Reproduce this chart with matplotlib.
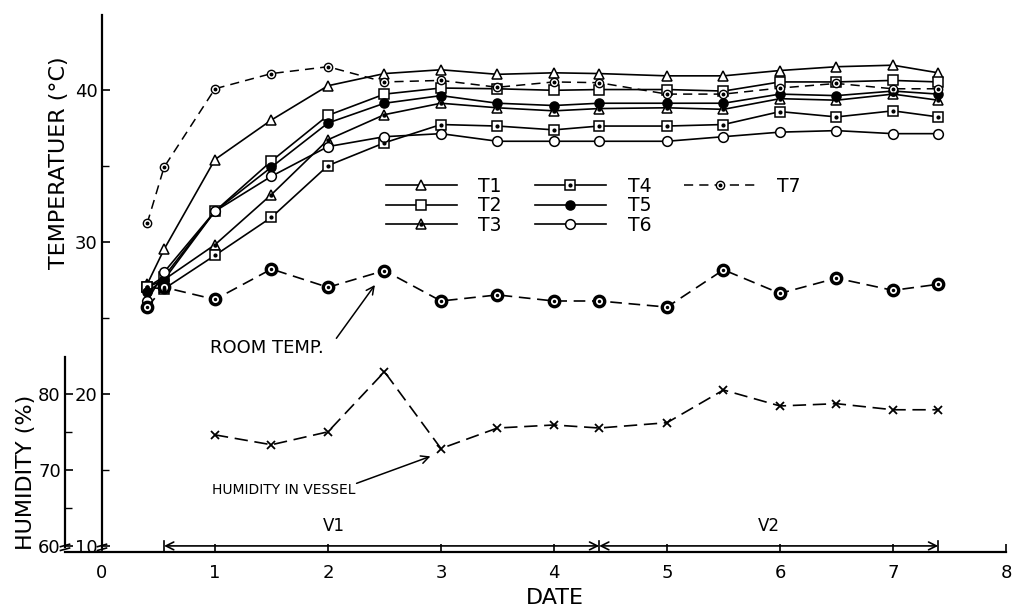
import matplotlib
matplotlib.use('Agg')
import matplotlib.pyplot as plt
from matplotlib.lines import Line2D
from matplotlib.legend_handler import HandlerTuple

# ---------------- data ----------------
dates = [0.4, 0.55, 1, 1.5, 2, 2.5, 3, 3.5, 4, 4.4, 5, 5.5, 6, 6.5, 7, 7.4]
t1 = [27.2, 29.5, 35.4, 38.0, 40.25, 41.05, 41.3, 41.0, 41.1, 41.05, 40.9, 40.9, 41.25, 41.5, 41.6, 41.1]
t2 = [27.0, 27.7, 32.0, 35.3, 38.3, 39.7, 40.1, 40.05, 39.95, 40.0, 40.0, 39.9, 40.5, 40.5, 40.6, 40.5]
t3 = [27.0, 27.5, 29.8, 33.1, 36.7, 38.35, 39.1, 38.8, 38.6, 38.75, 38.8, 38.7, 39.4, 39.3, 39.7, 39.3]
t4 = [27.0, 26.9, 29.1, 31.6, 35.0, 36.5, 37.7, 37.6, 37.35, 37.6, 37.6, 37.7, 38.55, 38.2, 38.6, 38.2]
t5 = [26.7, 27.5, 32.0, 34.9, 37.8, 39.1, 39.6, 39.1, 38.95, 39.1, 39.1, 39.1, 39.7, 39.6, 39.9, 39.7]
t6 = [26.1, 28.0, 32.0, 34.3, 36.25, 36.9, 37.1, 36.6, 36.6, 36.6, 36.6, 36.9, 37.2, 37.3, 37.1, 37.1]
t7 = [31.2, 34.9, 40.05, 41.05, 41.5, 40.5, 40.6, 40.15, 40.5, 40.45, 39.7, 39.7, 40.1, 40.4, 40.05, 40.05]
room_temp = [25.7, 27.0, 26.2, 28.2, 27.0, 28.1, 26.1, 26.5, 26.1, 26.1, 25.7, 28.15, 26.6, 27.6, 26.8, 27.2]

hum_dates = [1, 1.5, 2, 2.5, 3, 3.5, 4, 4.4, 5, 5.5, 6, 6.5, 7, 7.4]
humidity = [74.6, 73.3, 75.0, 82.9, 72.8, 75.5, 75.9, 75.5, 76.2, 80.5, 78.4, 78.7, 77.9, 77.9]

series_labels = ['T1', 'T2', 'T3', 'T4', 'T5', 'T6', 'T7']
period_bounds = [0.55, 4.4, 7.4]
period_labels = ['V1', 'V2']
x_ticks = [0, 1, 2, 3, 4, 5, 6, 7, 8]
temp_ticks = [10, 20, 30, 40]
hum_ticks = [60, 70, 80]

# ---------------- figure ----------------
plt.rcParams['font.family'] = ['DejaVu Sans']
fig = plt.figure(figsize=(10.13, 6.11), dpi=100)
ax = fig.add_axes([65 / 1013, 1 - 552 / 611, (1006 - 65) / 1013, (552 - 15) / 611])
ax.set_xlim(-0.327, 8)
ylo, yhi = 9.6, 44.9
ax.set_ylim(ylo, yhi)

for s in ['top', 'right']:
    ax.spines[s].set_visible(False)
ax.spines['left'].set_position(('data', 0))
ax.spines['left'].set_bounds(ylo + 0.35, yhi)
ax.spines['bottom'].set_bounds(-0.327, 8)
for s in ['left', 'bottom']:
    ax.spines[s].set_linewidth(1.6)

ax.set_xticks(x_ticks)
ax.set_xticklabels([str(v) for v in x_ticks])
ax.tick_params(axis='x', direction='in', length=6, width=1.2, pad=9, labelsize=13)
ax.set_yticks(temp_ticks)
ax.set_yticks([15, 25, 35], minor=True)
ax.tick_params(axis='y', which='major', direction='in', length=6, width=1.2, pad=3, labelsize=13)
ax.tick_params(axis='y', which='minor', direction='in', length=5, width=1.0)

# humidity axis
ax2 = ax.twinx()
ax2.set_ylim(2 * ylo + 40, 2 * yhi + 40)
for s in ['top', 'right', 'bottom']:
    ax2.spines[s].set_visible(False)
ax2.spines['left'].set_visible(True)
ax2.spines['left'].set_position(('axes', 0))
ax2.spines['left'].set_bounds(2 * ylo + 40 + 0.7, 84.9)
ax2.spines['left'].set_linewidth(1.6)
ax2.yaxis.tick_left()
ax2.set_yticks(hum_ticks)
ax2.set_yticks([65, 75], minor=True)
ax2.tick_params(axis='y', which='major', direction='in', length=6, width=1.2, pad=3, labelsize=13)
ax2.tick_params(axis='y', which='minor', direction='in', length=5, width=1.0)

# break marks near bottom of the vertical axes
for xb in [-0.327, 0]:
    for dy in [0.0, 0.25]:
        ax.plot([xb - 0.04, xb + 0.04], [9.78 + dy - 0.08, 9.78 + dy + 0.08],
                color='k', lw=1.2, clip_on=False, zorder=5)

lw = 1.2
common = dict(color='black', lw=lw, markeredgecolor='black', markeredgewidth=1.1)
h1, = ax.plot(dates, t1, marker='^', ms=7, mfc='white', **common, zorder=4)
h2, = ax.plot(dates, t2, marker='s', ms=7, mfc='white', **common, zorder=4)
h3, = ax.plot(dates, t3, marker='^', ms=7, mfc='white', **common, zorder=4)
d3, = ax.plot(dates, t3, ls='none', marker='o', ms=2.2, color='black', zorder=5)
h4, = ax.plot(dates, t4, marker='s', ms=7, mfc='white', **common, zorder=4)
d4, = ax.plot(dates, t4, ls='none', marker='o', ms=2.0, color='black', zorder=5)
h5, = ax.plot(dates, t5, marker='o', ms=6.5, mfc='black', **common, zorder=4)
h6, = ax.plot(dates, t6, marker='o', ms=7, mfc='white', **common, zorder=4)
h7, = ax.plot(dates, t7, marker='o', ms=6, mfc='white', color='black', lw=1.1,
              markeredgecolor='black', markeredgewidth=1.0, dashes=(6, 4), zorder=4)
d7, = ax.plot(dates, t7, ls='none', marker='o', ms=1.8, color='black', zorder=5)

# room temperature
ax.plot(dates, room_temp, marker='o', ms=7.5, mfc='white', mec='black', mew=2.4,
        color='black', lw=1.2, dashes=(7, 4), zorder=4)
ax.plot(dates, room_temp, ls='none', marker='o', ms=1.5, color='black', zorder=5)

# humidity
ax2.plot(hum_dates, humidity, marker='x', ms=6, mew=1.3, color='black', lw=1.2,
         dashes=(8, 4), zorder=4)

blank = Line2D([], [], alpha=0)
handles = [h1, h2, (h3, d3), (h4, d4), h5, h6, (h7, d7), blank, blank]
labels = series_labels + ['', '']
leg = ax.legend(handles, labels,
                handler_map={tuple: HandlerTuple(ndivide=1, pad=0)},
                loc='upper left', bbox_to_anchor=(2.51, 34.25), bbox_transform=ax.transData,
                ncol=3, frameon=False, fontsize=13.5, numpoints=1, handlelength=3.8,
                handletextpad=1.15, columnspacing=1.75, labelspacing=0.02, borderpad=0,
                borderaxespad=0)

# annotations
ax.text(0.96, 23.0, 'ROOM TEMP.', fontsize=13, va='center', ha='left')
ax.annotate('', xy=(2.43, 27.3), xytext=(2.06, 23.5),
            arrowprops=dict(arrowstyle='->', color='black', lw=1.1, mutation_scale=14))
ax.text(0.97, 13.65, 'HUMIDITY IN VESSEL', fontsize=10, va='center', ha='left')
ax.annotate('', xy=(2.93, 15.95), xytext=(2.23, 14.05),
            arrowprops=dict(arrowstyle='->', color='black', lw=1.1, mutation_scale=14))

# V1 / V2 periods
vy = 10.0
for a, b in zip(period_bounds[:-1], period_bounds[1:]):
    ax.annotate('', xy=(a, vy), xytext=(b, vy),
                arrowprops=dict(arrowstyle='<->', color='black', lw=1.2, mutation_scale=14,
                                shrinkA=0, shrinkB=0))
for xb in period_bounds:
    ax.plot([xb, xb], [vy - 0.35, vy + 0.35], color='black', lw=1.2)
ax.text(2.05, 11.3, period_labels[0], fontsize=12, ha='center', va='center')
ax.text(5.9, 11.3, period_labels[1], fontsize=12, ha='center', va='center')

# axis titles
fig.text(59 / 1013, 1 - 163 / 611, 'TEMPERATUER (°C)', rotation=90, fontsize=16,
         ha='center', va='center')
fig.text(26 / 1013, 1 - 472 / 611, 'HUMIDITY (%)', rotation=90, fontsize=16,
         ha='center', va='center')
fig.text(555 / 1013, 1 - 598 / 611, 'DATE', fontsize=16, ha='center', va='center')

fig.savefig('out.png', dpi=100)
